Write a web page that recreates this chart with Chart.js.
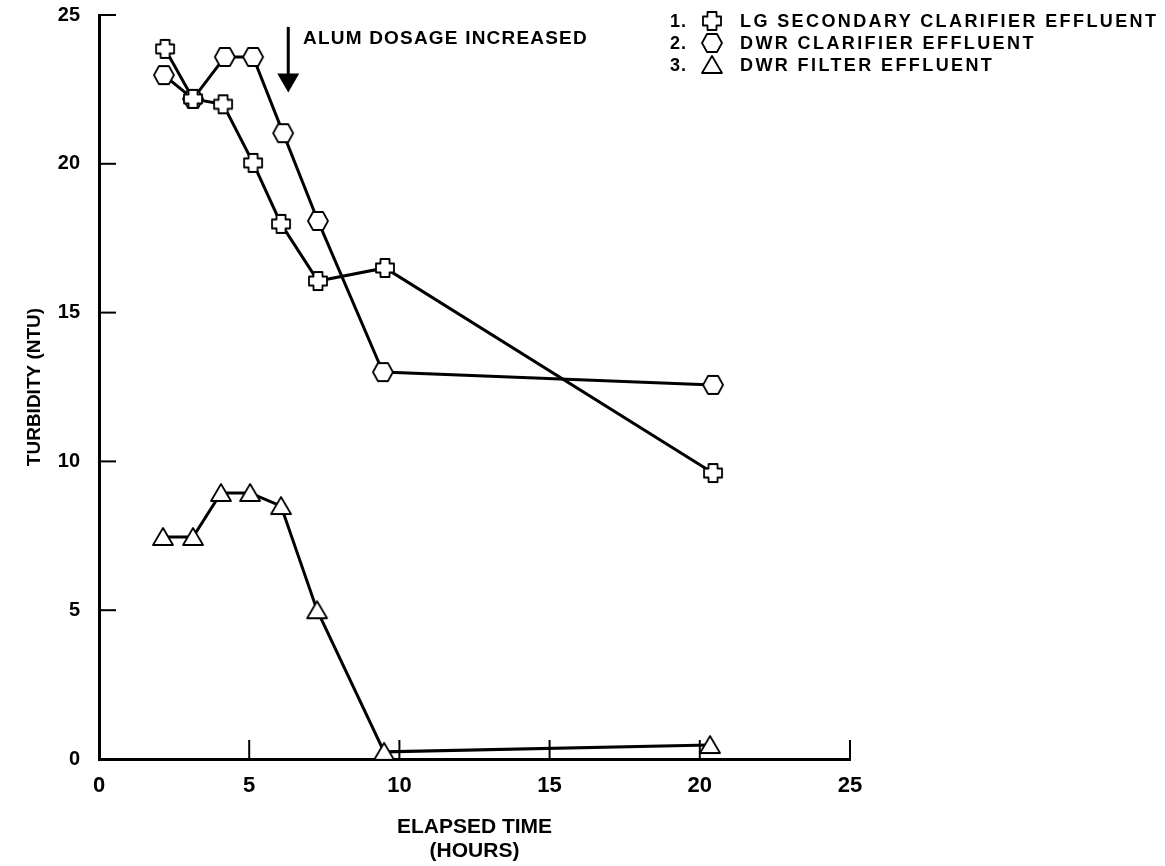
<!DOCTYPE html>
<html><head><meta charset="utf-8">
<script src="https://cdn.jsdelivr.net/npm/chart.js@4.4.1/dist/chart.umd.min.js"></script>
<style>
html,body{margin:0;padding:0;background:#fff;}
#wrap{position:relative;width:1165px;height:866px;overflow:hidden;background:#fff;}
#c{position:absolute;left:0;top:0;}
.t{position:absolute;font-family:"Liberation Sans",Arial,sans-serif;font-weight:bold;color:#000;white-space:nowrap;line-height:1;}
.mk{position:absolute;}
</style></head><body>
<div id="wrap"><canvas id="c" width="1165" height="866"></canvas></div>
<script>
// ---- data ----
const seriesNames = ['LG SECONDARY CLARIFIER EFFLUENT', 'DWR CLARIFIER EFFLUENT', 'DWR FILTER EFFLUENT'];
const seriesNumbers = ['1.', '2.', '3.'];
const lgX   = [2.2, 3.13, 4.13, 5.13, 6.06, 7.29, 9.52, 20.44];
const lgY   = [23.86, 22.18, 22.0, 20.03, 17.98, 16.06, 16.5, 9.61];
const clarX = [2.16, 3.13, 4.19, 5.13, 6.13, 7.29, 9.45, 20.44];
const clarY = [22.98, 22.18, 23.59, 23.59, 21.03, 18.08, 13.0, 12.57];
const filtX = [2.13, 3.13, 4.06, 5.03, 6.06, 7.26, 9.49, 20.34];
const filtY = [7.46, 7.46, 8.94, 8.94, 8.5, 5.0, 0.24, 0.47];
const xTicks = [0, 5, 10, 15, 20, 25];
const yTicks = [0, 5, 10, 15, 20, 25];
const xTitle = ['ELAPSED TIME', '(HOURS)'];
const yTitle = 'TURBIDITY (NTU)';
const noteText = 'ALUM DOSAGE INCREASED';
const arrowX = 6.3;
const arrowY = [24.6, 22.4];

const FONT = "'Liberation Sans', Arial, sans-serif";

function markerCanvas(kind) {
  const c = document.createElement('canvas');
  c.width = 24; c.height = 24;
  const g = c.getContext('2d');
  g.translate(12, 12);
  g.beginPath();
  if (kind === 'cross') {
    const a = 9, b = 4.5;
    g.moveTo(-b, -a); g.lineTo(b, -a); g.lineTo(b, -b); g.lineTo(a, -b); g.lineTo(a, b);
    g.lineTo(b, b); g.lineTo(b, a); g.lineTo(-b, a); g.lineTo(-b, b); g.lineTo(-a, b);
    g.lineTo(-a, -b); g.lineTo(-b, -b); g.closePath();
  } else if (kind === 'hex') {
    const w = 10, h = 9;
    g.moveTo(-w, 0); g.lineTo(-w / 2, -h); g.lineTo(w / 2, -h); g.lineTo(w, 0);
    g.lineTo(w / 2, h); g.lineTo(-w / 2, h); g.closePath();
  } else {
    g.moveTo(0, -9); g.lineTo(10, 8); g.lineTo(-10, 8); g.closePath();
  }
  g.fillStyle = '#fff'; g.fill();
  g.lineWidth = 1.8; g.lineJoin = 'round'; g.strokeStyle = '#000'; g.stroke();
  return c;
}

const kinds = ['cross', 'hex', 'tri'];
const xsAll = [lgX, clarX, filtX];
const ysAll = [lgY, clarY, filtY];

const datasets = seriesNames.map((name, k) => ({
  label: name,
  data: xsAll[k].map((x, i) => ({ x: x, y: ysAll[k][i] })),
  borderColor: '#000',
  borderWidth: 3,
  pointStyle: markerCanvas(kinds[k]),
  pointRadius: 10,
  pointHoverRadius: 10,
  tension: 0,
  fill: false,
  clip: false
}));

const decor = {
  id: 'decor',
  beforeDatasetsDraw(chart) {
    const { ctx, scales: { x, y } } = chart;
    ctx.save();
    ctx.strokeStyle = '#000';
    ctx.lineWidth = 2;
    yTicks.forEach(v => {
      if (v === 0) return;
      const py = y.getPixelForValue(v);
      ctx.beginPath(); ctx.moveTo(x.left, py); ctx.lineTo(x.left + 17, py); ctx.stroke();
    });
    xTicks.forEach(v => {
      if (v === 0) return;
      const px = x.getPixelForValue(v);
      ctx.beginPath(); ctx.moveTo(px, y.bottom); ctx.lineTo(px, y.bottom - 19); ctx.stroke();
    });
    // arrow
    const ax = x.getPixelForValue(arrowX);
    const y1 = y.getPixelForValue(arrowY[0]);
    const y2 = y.getPixelForValue(arrowY[1]);
    ctx.lineWidth = 3;
    ctx.beginPath(); ctx.moveTo(ax, y1); ctx.lineTo(ax, y2 - 16); ctx.stroke();
    ctx.fillStyle = '#000';
    ctx.beginPath(); ctx.moveTo(ax - 11, y2 - 19); ctx.lineTo(ax + 11, y2 - 19); ctx.lineTo(ax, y2); ctx.closePath(); ctx.fill();
    ctx.restore();
  }
};

new Chart(document.getElementById('c'), {
  type: 'line',
  data: { datasets: datasets },
  options: {
    responsive: false,
    animation: false,
    events: [],
    layout: { padding: { left: 0, top: 15, right: 315, bottom: 0 } },
    plugins: { legend: { display: false }, tooltip: { enabled: false } },
    scales: {
      x: {
        type: 'linear', min: 0, max: 25,
        afterFit(s) { s.height = 107; s.paddingLeft = 0; s.paddingRight = 0; },
        afterBuildTicks(s) { s.ticks = xTicks.map(v => ({ value: v })); },
        grid: { display: false, drawTicks: false },
        border: { display: true, color: '#000', width: 3 },
        ticks: { color: '#000', padding: 14, maxRotation: 0, autoSkip: false, font: { family: FONT, size: 22, weight: 'bold' } },
        title: { display: true, text: xTitle, color: '#000', font: { family: FONT, size: 21, weight: 'bold', lineHeight: '24px' }, padding: { top: 0, bottom: 3 } }
      },
      y: {
        type: 'linear', min: 0, max: 25,
        afterFit(s) { s.width = 99; s.paddingTop = 0; s.paddingBottom = 0; },
        afterBuildTicks(s) { s.ticks = yTicks.map(v => ({ value: v })); },
        grid: { display: false, drawTicks: false },
        border: { display: true, color: '#000', width: 3 },
        ticks: { color: '#000', padding: 19, autoSkip: false, font: { family: FONT, size: 20, weight: 'bold' } },
        title: { display: true, text: yTitle, color: '#000', font: { family: FONT, size: 19, weight: 'bold' }, padding: { top: 23, bottom: 0 } }
      }
    }
  },
  plugins: [decor]
});

// ---- HTML text: annotation and legend ----
const wrap = document.getElementById('wrap');
function addText(txt, left, centerY, size, spacing) {
  const d = document.createElement('div');
  d.className = 't';
  d.textContent = txt;
  d.style.left = left + 'px';
  d.style.top = (centerY - size / 2) + 'px';
  d.style.fontSize = size + 'px';
  d.style.letterSpacing = spacing + 'px';
  wrap.appendChild(d);
}
addText(noteText, 303, 37, 19, 1.2);
const rowY = [21, 43, 65];
seriesNames.forEach((name, k) => {
  addText(seriesNumbers[k], 670, rowY[k], 18, 1);
  const m = markerCanvas(kinds[k]);
  m.className = 'mk';
  m.style.left = (712 - 12) + 'px';
  m.style.top = (rowY[k] - 12) + 'px';
  wrap.appendChild(m);
  addText(name, 740, rowY[k], 18, 2.4);
});
</script>
</body></html>
